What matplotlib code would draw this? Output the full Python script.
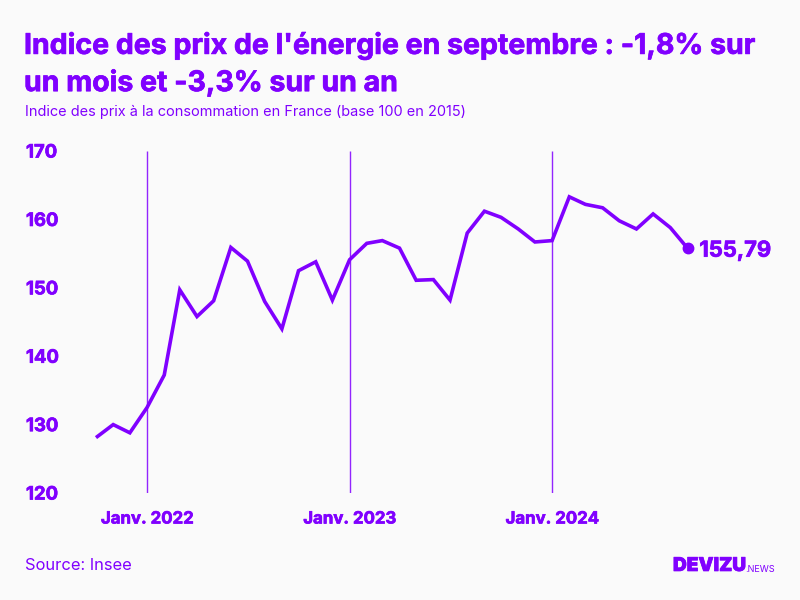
import matplotlib
matplotlib.use("Agg")
import matplotlib.pyplot as plt
import matplotlib.patheffects as pe
from matplotlib.transforms import blended_transform_factory
import pandas as pd

PURPLE = "#8000ff"
BG = "#fafafa"
plt.rcParams["font.family"] = ["Inter", "DejaVu Sans"]

months = pd.date_range("2021-10-01", "2024-09-01", freq="MS")
values = [128.1, 130.0, 128.8, 132.5, 137.25, 149.7, 145.8, 148.1, 155.9, 153.9, 148.0, 144.0,
          152.5, 153.8, 148.2, 154.1, 156.5, 156.9, 155.8, 151.1, 151.2, 148.2, 158.0, 161.2,
          160.3, 158.6, 156.7, 156.9, 163.3, 162.2, 161.7, 159.8, 158.6, 160.8, 158.8, 155.79]
y_ticks = [120, 130, 140, 150, 160, 170]
year_marks = pd.to_datetime(["2022-01-01", "2023-01-01", "2024-01-01"])
year_labels = ["Janv. 2022", "Janv. 2023", "Janv. 2024"]
last_label = "155,79"
title = "Indice des prix de l'énergie en septembre : -1,8% sur\nun mois et -3,3% sur un an"
subtitle = "Indice des prix à la consommation en France (base 100 en 2015)"
source = "Source: Insee"

W, H = 800, 600
heavy = [pe.withStroke(linewidth=0.5, foreground=PURPLE)]
fig = plt.figure(figsize=(8, 6), dpi=100, facecolor=BG)
ax = fig.add_axes([96 / W, 1 - 493 / H, (687.5 - 96) / W, (493 - 151) / H])
ax.set_facecolor("none")
ax.set_xlim(months[0], months[-1])
ax.set_ylim(120, 170)
for s in ax.spines.values():
    s.set_visible(False)
ax.tick_params(left=False, bottom=False, labelleft=False, labelbottom=False)

ax.vlines(year_marks, 120, 170, color=PURPLE, lw=1, alpha=0.85, zorder=1)
ax.plot(months, values, color=PURPLE, lw=2.6, solid_joinstyle="miter", solid_capstyle="butt",
        clip_on=False, zorder=3)
ax.plot(months[-1], values[-1], "o", color=PURPLE, ms=7.5, clip_on=False, zorder=4)

ax.annotate(last_label, (months[-1], values[-1]), xytext=(8.5, -1.8), textcoords="offset points",
            color=PURPLE, fontsize=15.8, fontweight="bold", va="center", ha="left", path_effects=heavy)

tr = blended_transform_factory(fig.transFigure, ax.transData)
for v in y_ticks:
    ax.text(26 / W, v - 0.3, str(v), transform=tr, color=PURPLE, fontsize=13.3, fontweight="bold",
            ha="left", va="center", clip_on=False, path_effects=heavy)

tr2 = blended_transform_factory(ax.transData, fig.transFigure)
for d, lab in zip(year_marks, year_labels):
    ax.text(d, 1 - 519 / H, lab, transform=tr2, color=PURPLE, fontsize=12.1, fontweight="bold",
            ha="center", va="center", clip_on=False, path_effects=heavy)

fig.text(24 / W, 1 - 64.5 / H, title, color=PURPLE, fontsize=20.5, fontweight="bold",
         ha="left", va="center", linespacing=1.42, path_effects=heavy)
fig.text(25 / W, 1 - 112 / H, subtitle, color=PURPLE, fontsize=10.45, ha="left", va="center")
fig.text(25 / W, 1 - 565 / H, source, color=PURPLE, fontsize=11.9, ha="left", va="center")
fig.text(673 / W, 1 - 566 / H, "DEVIZU", color=PURPLE, fontsize=13.7, fontweight="black",
         ha="left", va="center", path_effects=heavy)
fig.text(775 / W, 1 - 570 / H, ".NEWS", color=PURPLE, fontsize=6.6, ha="right", va="center")

fig.savefig("out.png", dpi=100, facecolor=BG)
